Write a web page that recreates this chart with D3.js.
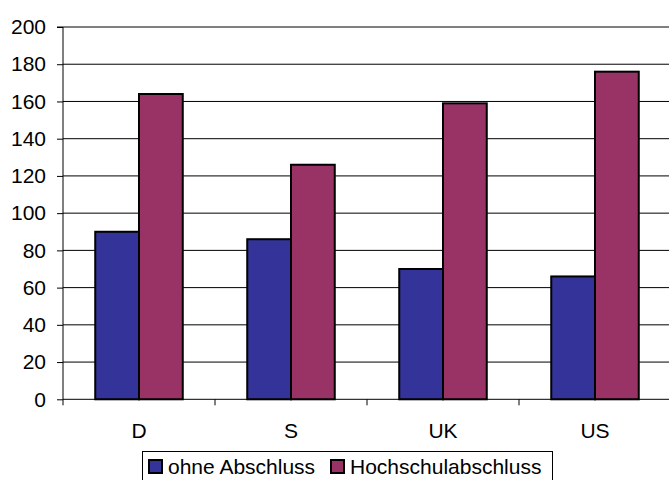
<!DOCTYPE html>
<html><head><meta charset="utf-8">
<script src="https://cdn.jsdelivr.net/npm/d3@7"></script>
<style>body{margin:0;background:#fff}svg{display:block}</style>
</head><body>
<svg id="c" width="669" height="480"></svg>
<script>
const categories = ["D", "S", "UK", "US"];
const seriesNames = ["ohne Abschluss", "Hochschulabschluss"];
const ohneAbschluss = [90, 86, 70, 66];
const hochschulabschluss = [164, 126, 159, 176];
const yTicks = [0, 20, 40, 60, 80, 100, 120, 140, 160, 180, 200];
const colors = ["#333399", "#993366"];

const svg = d3.select("#c");
const font = "'Liberation Sans', Arial, sans-serif";
const x0 = 63, x1 = 671, yTop = 27, yBot = 399.3;
const x = d3.scaleBand().domain(categories).range([x0, x1]).paddingInner(0).paddingOuter(0);
const xs = d3.scaleBand().domain(seriesNames).range([0, x.bandwidth()]).paddingInner(0).paddingOuter(0.7368);
const y = d3.scaleLinear().domain([0, 200]).range([yBot, yTop]);

// gridlines
svg.append("g").selectAll("line").data(yTicks.filter(t => t > 0)).join("line")
  .attr("x1", x0).attr("x2", 669).attr("y1", d => y(d)).attr("y2", d => y(d))
  .attr("stroke", "#000").attr("stroke-width", 1);

// bars
const data = [ohneAbschluss, hochschulabschluss];
const g = svg.append("g");
seriesNames.forEach((s, si) => {
  g.selectAll(null).data(categories).join("rect")
    .attr("x", c => x(c) + xs(s))
    .attr("width", xs.bandwidth())
    .attr("y", (c, i) => y(data[si][i]))
    .attr("height", (c, i) => yBot - y(data[si][i]))
    .attr("fill", colors[si]).attr("stroke", "#000").attr("stroke-width", 2);
});

// y axis
const ya = d3.axisLeft(y).tickValues(yTicks).tickSize(6).tickPadding(11);
const yg = svg.append("g").attr("transform", `translate(${x0},0)`).call(ya);
yg.select(".domain").attr("stroke", "#000").attr("d", `M-6,${yTop}H0V${yBot}`);
yg.selectAll(".tick line").attr("stroke", "#000");
yg.selectAll("text").attr("font-family", font).attr("font-size", 21).attr("fill", "#000");

// x axis
const xa = d3.axisBottom(x).tickSize(0).tickPadding(0);
const xg = svg.append("g").attr("transform", `translate(0,${yBot})`).call(xa);
xg.select(".domain").attr("stroke", "#000").attr("d", `M${x0},0H669`);
xg.selectAll("text").attr("font-family", font).attr("font-size", 21).attr("fill", "#000").attr("dy", "1.85em");
svg.append("g").selectAll("line").data(categories.slice(1).concat([])).join("line")
  .attr("x1", d => x(d)).attr("x2", d => x(d)).attr("y1", yBot).attr("y2", yBot + 6).attr("stroke", "#000");
svg.append("line").attr("x1", x0).attr("x2", x0).attr("y1", yBot).attr("y2", yBot + 6).attr("stroke", "#000");

// legend
const lg = svg.append("g");
lg.append("rect").attr("x", 142.5).attr("y", 451.5).attr("width", 410).attr("height", 40)
  .attr("fill", "#fff").attr("stroke", "#000").attr("stroke-width", 1);
const legendItems = [{x: 149, tx: 168}, {x: 331, tx: 350}];
seriesNames.forEach((s, i) => {
  lg.append("rect").attr("x", legendItems[i].x).attr("y", 460).attr("width", 13).attr("height", 13)
    .attr("fill", colors[i]).attr("stroke", "#000").attr("stroke-width", 2);
  lg.append("text").attr("x", legendItems[i].tx).attr("y", 474).text(s)
    .attr("font-family", font).attr("font-size", 21).attr("fill", "#000");
});
</script>
</body></html>
